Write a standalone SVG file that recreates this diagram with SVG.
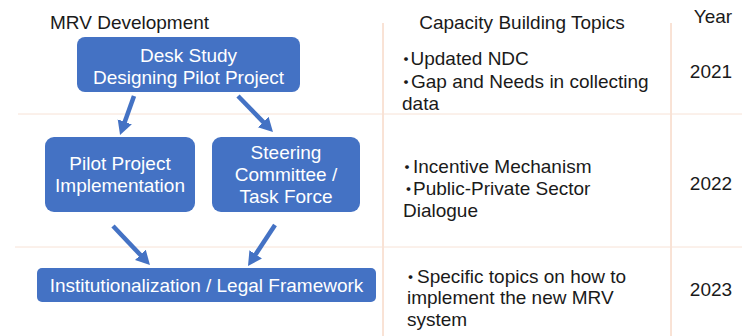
<svg xmlns="http://www.w3.org/2000/svg" width="742" height="336" viewBox="0 0 742 336">
<defs>
<style>
.box{fill:#4472C4;}
.bt{font-family:"Liberation Sans",Arial,sans-serif;font-size:19px;fill:#ffffff;text-anchor:middle;}
.t{font-family:"Liberation Sans",Arial,"Noto Sans CJK JP",sans-serif;font-size:19px;fill:#1a1a1a;}
.dot{font-family:"Noto Sans CJK JP",sans-serif;font-size:15px;font-weight:bold;}
.c{text-anchor:middle;}
.vl{stroke:#F3C6AC;stroke-width:1;}
.hl{stroke:#F7E2D6;stroke-width:1;}
.arr{stroke:#4472C4;stroke-width:4.5;fill:none;marker-end:url(#ah);}
</style>
<marker id="ah" markerUnits="userSpaceOnUse" markerWidth="16" markerHeight="16" refX="2" refY="0" viewBox="0 -8 16 16" orient="auto">
<path d="M0,-7.5 L14,0 L0,7.5 z" fill="#4472C4"/>
</marker>
</defs>
<rect width="742" height="336" fill="#ffffff"/>
<g id="grid">
<line class="vl" x1="383" y1="23" x2="383" y2="336"/>
<line class="vl" x1="671" y1="23" x2="671" y2="336"/>
<line class="hl" x1="18" y1="114" x2="742" y2="114"/>
<line class="hl" x1="15" y1="247" x2="742" y2="247"/>
</g>
<g id="headers">
<text class="t" x="50" y="29" font-size="18.8">MRV Development</text>
<text class="t c" x="522" y="29">Capacity Building Topics</text>
<text class="t c" x="713" y="23">Year</text>
</g>
<g id="connectors">
<line class="arr" x1="134" y1="96" x2="124.1" y2="123.7"/>
<line class="arr" x1="238" y1="96" x2="264.6" y2="123.4"/>
<line class="arr" x1="113" y1="226" x2="141.7" y2="256.3"/>
<line class="arr" x1="275" y1="225" x2="254.6" y2="256"/>
</g>
<g id="desk-study">
<rect class="box" x="77" y="37" width="223" height="55" rx="8"/>
<text class="bt" x="188.5" y="61.5">Desk Study</text>
<text class="bt" x="188.5" y="83.5">Designing Pilot Project</text>
</g>
<g id="pilot-implementation">
<rect class="box" x="45" y="137" width="150" height="75" rx="9"/>
<text class="bt" x="120" y="170">Pilot Project</text>
<text class="bt" x="120" y="192">Implementation</text>
</g>
<g id="steering-committee">
<rect class="box" x="212" y="137" width="148" height="75" rx="9"/>
<text class="bt" x="286" y="159">Steering</text>
<text class="bt" x="286" y="181">Committee /</text>
<text class="bt" x="286" y="203">Task Force</text>
</g>
<g id="institutionalization">
<rect class="box" x="37" y="268" width="339" height="34" rx="5"/>
<text class="bt" x="206.5" y="292">Institutionalization / Legal Framework</text>
</g>
<g id="topics-2021">
<text class="t" x="398.5" y="65"><tspan class="dot" letter-spacing="-3">・</tspan>Updated NDC</text>
<text class="t" x="398.5" y="87.5"><tspan class="dot" letter-spacing="-2.5">・</tspan>Gap and Needs in collecting</text>
<text class="t" x="402" y="110">data</text>
</g>
<g id="topics-2022">
<text class="t" x="399.5" y="173"><tspan class="dot" letter-spacing="-1.5">・</tspan>Incentive Mechanism</text>
<text class="t" x="401" y="195"><tspan class="dot" letter-spacing="-3">・</tspan>Public-Private Sector</text>
<text class="t" x="403" y="217">Dialogue</text>
</g>
<g id="topics-2023">
<text class="t" x="403" y="283"><tspan class="dot" letter-spacing="-1">・</tspan>Specific topics on how to</text>
<text class="t" x="407" y="304">implement the new MRV</text>
<text class="t" x="407" y="326">system</text>
</g>
<g id="years">
<text class="t c" x="711" y="78">2021</text>
<text class="t c" x="711" y="190">2022</text>
<text class="t c" x="711" y="296">2023</text>
</g>
</svg>
